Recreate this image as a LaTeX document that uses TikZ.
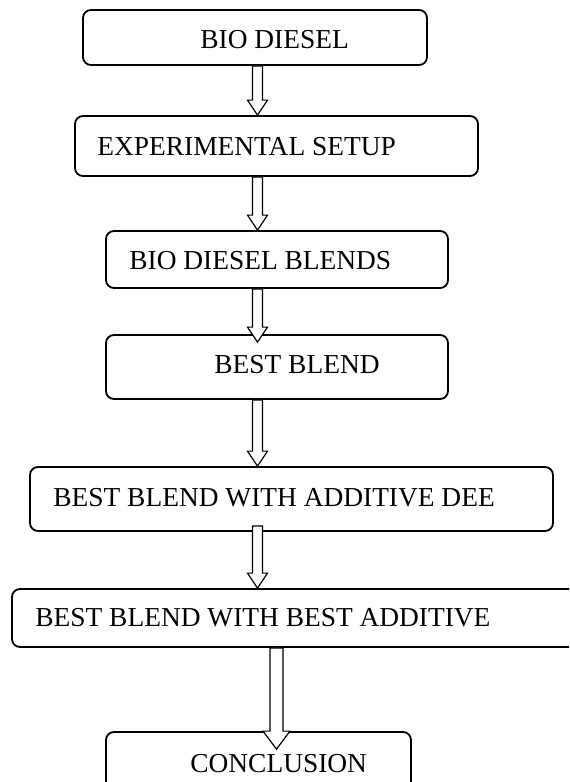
\documentclass[tikz,border=0pt]{standalone}
\usepackage{fontspec}
\setmainfont{Liberation Serif}
\usetikzlibrary{calc}

\tikzset{
  stage/.style={draw, rounded corners=4pt, line width=0.9pt, inner sep=0pt},
  caption/.style={anchor=base west, inner sep=0pt, font=\fontsize{13.7}{16}\selectfont},
  fatarrow/.style={draw, fill=white, line width=0.6pt, line join=miter},
}
% shaft half width, head half width, head length
\newcommand\sw{2.5pt}
\newcommand\hw{5pt}
\newcommand\hl{7.5pt}
% hollow arrow: x coordinate, from node, to node, start shift, end shift
\newcommand\fatarrow[5]{%
  \path[fatarrow] let \p1=(#1 |- #2.south), \p2=(#1 |- #3.north) in
    (\x1-\sw,\y1+#4) -- (\x1+\sw,\y1+#4) -- (\x1+\sw,\y2-#5+\hl) -- (\x1+\hw,\y2-#5+\hl)
    -- (\x1,\y2-#5) -- (\x1-\hw,\y2-#5+\hl) -- (\x1-\sw,\y2-#5+\hl) -- cycle;}

\begin{document}
\begin{tikzpicture}[x=0.5pt,y=-0.5pt]
  \useasboundingbox (0,0) rectangle (569,782);
  \clip (0,0) rectangle (569,782);
  \node[stage, minimum width=172pt, minimum height=27.5pt] (b1) at (255,37.5) {};
  \node[stage, minimum width=201.5pt, minimum height=30pt] (b2) at (276.5,146) {};
  \node[stage, minimum width=171pt, minimum height=28.5pt] (b3) at (277,259.5) {};
  \node[stage, minimum width=171pt, minimum height=32pt] (b4) at (277,367) {};
  \node[stage, minimum width=261.5pt, minimum height=32pt] (b5) at (291.5,499) {};
  \node[stage, minimum width=294pt, minimum height=29pt] (b6) at (306,618) {};
  \node[stage, minimum width=152.5pt, minimum height=34pt] (b7) at (258.5,766) {};

  \node[caption] (t1) at (200,48) {BIO DIESEL};
  \node[caption] (t2) at (97,155) {EXPERIMENTAL SETUP};
  \node[caption] (t3) at (129,269) {BIO DIESEL BLENDS};
  \node[caption] (t4) at (214,373) {BEST BLEND};
  \node[caption] (t5) at (53,506) {BEST BLEND WITH ADDITIVE DEE};
  \node[caption] (t6) at (35,626) {BEST BLEND WITH BEST ADDITIVE};
  \node[caption] (t7) at (190,772) {CONCLUSION};

  \coordinate (ax) at (257.5,0);
  \coordinate (bx) at (276.5,0);
  \fatarrow{ax}{b1}{b2}{0pt}{0pt}
  \fatarrow{ax}{b2}{b3}{0pt}{0pt}
  \fatarrow{ax}{b3}{b4}{0pt}{4pt}
  \fatarrow{ax}{b4}{b5}{0pt}{0pt}
  \fatarrow{ax}{b5}{b6}{3pt}{0pt}
  \renewcommand\sw{3.25pt}\renewcommand\hw{6.75pt}\renewcommand\hl{9pt}
  \fatarrow{bx}{b6}{b7}{0pt}{9pt}
\end{tikzpicture}
\end{document}
